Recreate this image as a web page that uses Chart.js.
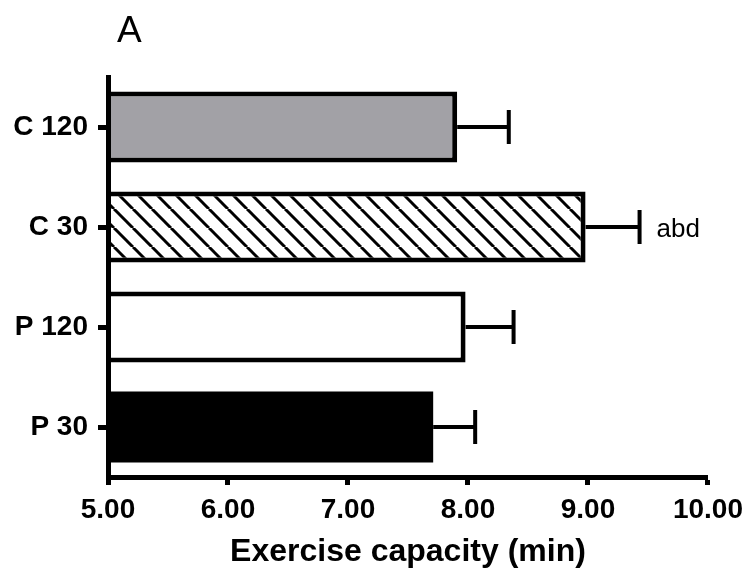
<!DOCTYPE html>
<html>
<head>
<meta charset="utf-8">
<script src="https://cdn.jsdelivr.net/npm/chart.js@4"></script>
<style>
  html, body { margin: 0; padding: 0; background: #fff; }
  #wrap { width: 751px; height: 576px; }
</style>
</head>
<body>
<div id="wrap"><canvas id="chart" width="751" height="576"></canvas></div>
<script>
// values
const groups = ["C 120", "C 30", "P 120", "P 30"];
const means = [7.91, 8.98, 7.98, 7.71];
const sems = [0.43, 0.45, 0.40, 0.35];
const marks = ["", "abd", "", ""];
const xTicks = [5, 6, 7, 8, 9, 10];
const xMin = 5, xMax = 10;

// hatch for the C 30 bar
function makeHatch(){
    const w = 19, h = 19;
    const c = document.createElement("canvas");
    c.width = w; c.height = h;
    const g = c.getContext("2d");
    g.fillStyle = "#fff";
    g.fillRect(0, 0, w, h);
    g.strokeStyle = "#000";
    g.lineWidth = 3;
    for (const off of [-w, 0, w]) {
        g.beginPath();
        g.moveTo(off, 0);
        g.lineTo(off + w, h);
        g.stroke();
    }
    return g.createPattern(c, "repeat");
}

const fills = ["#a2a1a6", makeHatch(), "#ffffff", "#000000"];
// solid black bar needs no outline (avoids a seam)
const outlines = [5, 5, 5, 0];

// error whiskers, significance letters and the panel letter
const extras = {
    id: "extras",
    afterDatasetsDraw(chart){
        const ctx = chart.ctx;
        const xs = chart.scales.x;
        const meta = chart.getDatasetMeta(0);
        ctx.save();
        ctx.strokeStyle = "#000";
        ctx.fillStyle = "#000";
        ctx.lineWidth = 4;
        meta.data.forEach((bar, i) => {
            const x1 = xs.getPixelForValue(means[i] + sems[i]);
            ctx.beginPath();
            ctx.moveTo(bar.x, bar.y);
            ctx.lineTo(x1, bar.y);
            ctx.moveTo(x1, bar.y - 17);
            ctx.lineTo(x1, bar.y + 17);
            ctx.stroke();
            if (marks[i]) {
                ctx.font = '26px "Liberation Sans", Arial, sans-serif';
                ctx.textBaseline = "alphabetic";
                ctx.fillText(marks[i], x1 + 17, bar.y + 10);
            }
        });
        ctx.font = '37px "Liberation Sans", Arial, sans-serif';
        ctx.textBaseline = "alphabetic";
        ctx.fillText("A", 117, 42);
        ctx.restore();
    }
};

const tickFont = { family: '"Liberation Sans", Arial, sans-serif', size: 28, weight: "bold" };

new Chart(document.getElementById("chart"), {
    type: "bar",
    data: {
        labels: groups,
        datasets: [{
            data: means,
            base: xMin,
            backgroundColor: fills,
            borderColor: "#000",
            borderWidth: outlines,
            borderSkipped: "start",
            categoryPercentage: 1,
            barPercentage: 0.71
        }]
    },
    options: {
        indexAxis: "y",
        responsive: false,
        animation: false,
        layout: { padding: { top: 77, right: 43, left: 0, bottom: 0 } },
        plugins: { legend: { display: false }, tooltip: { enabled: false } },
        scales: {
            x: {
                min: xMin,
                max: xMax,
                afterBuildTicks: (s) => { s.ticks = xTicks.map(v => ({ value: v })); },
                afterFit: (s) => { s.height = 99; },
                border: { display: true, color: "#000", width: 5, z: 1 },
                grid: { drawOnChartArea: false, color: "#000", tickLength: 8, tickWidth: 5, z: 1 },
                ticks: {
                    color: "#000",
                    font: tickFont,
                    padding: 8,
                    maxRotation: 0,
                    callback: (v) => Number(v).toFixed(2)
                },
                title: {
                    display: true,
                    text: "Exercise capacity (min)",
                    color: "#000",
                    font: { family: '"Liberation Sans", Arial, sans-serif', size: 32, weight: "bold" },
                    padding: { top: 0, bottom: 5 }
                }
            },
            y: {
                afterFit: (s) => { s.width = 108; },
                border: { display: true, color: "#000", width: 5, z: 1 },
                grid: { drawOnChartArea: false, offset: false, color: "#000", tickLength: 10, tickWidth: 5, z: 1 },
                ticks: { color: "#000", font: tickFont, padding: 10 }
            }
        }
    },
    plugins: [extras]
});
</script>
</body>
</html>
